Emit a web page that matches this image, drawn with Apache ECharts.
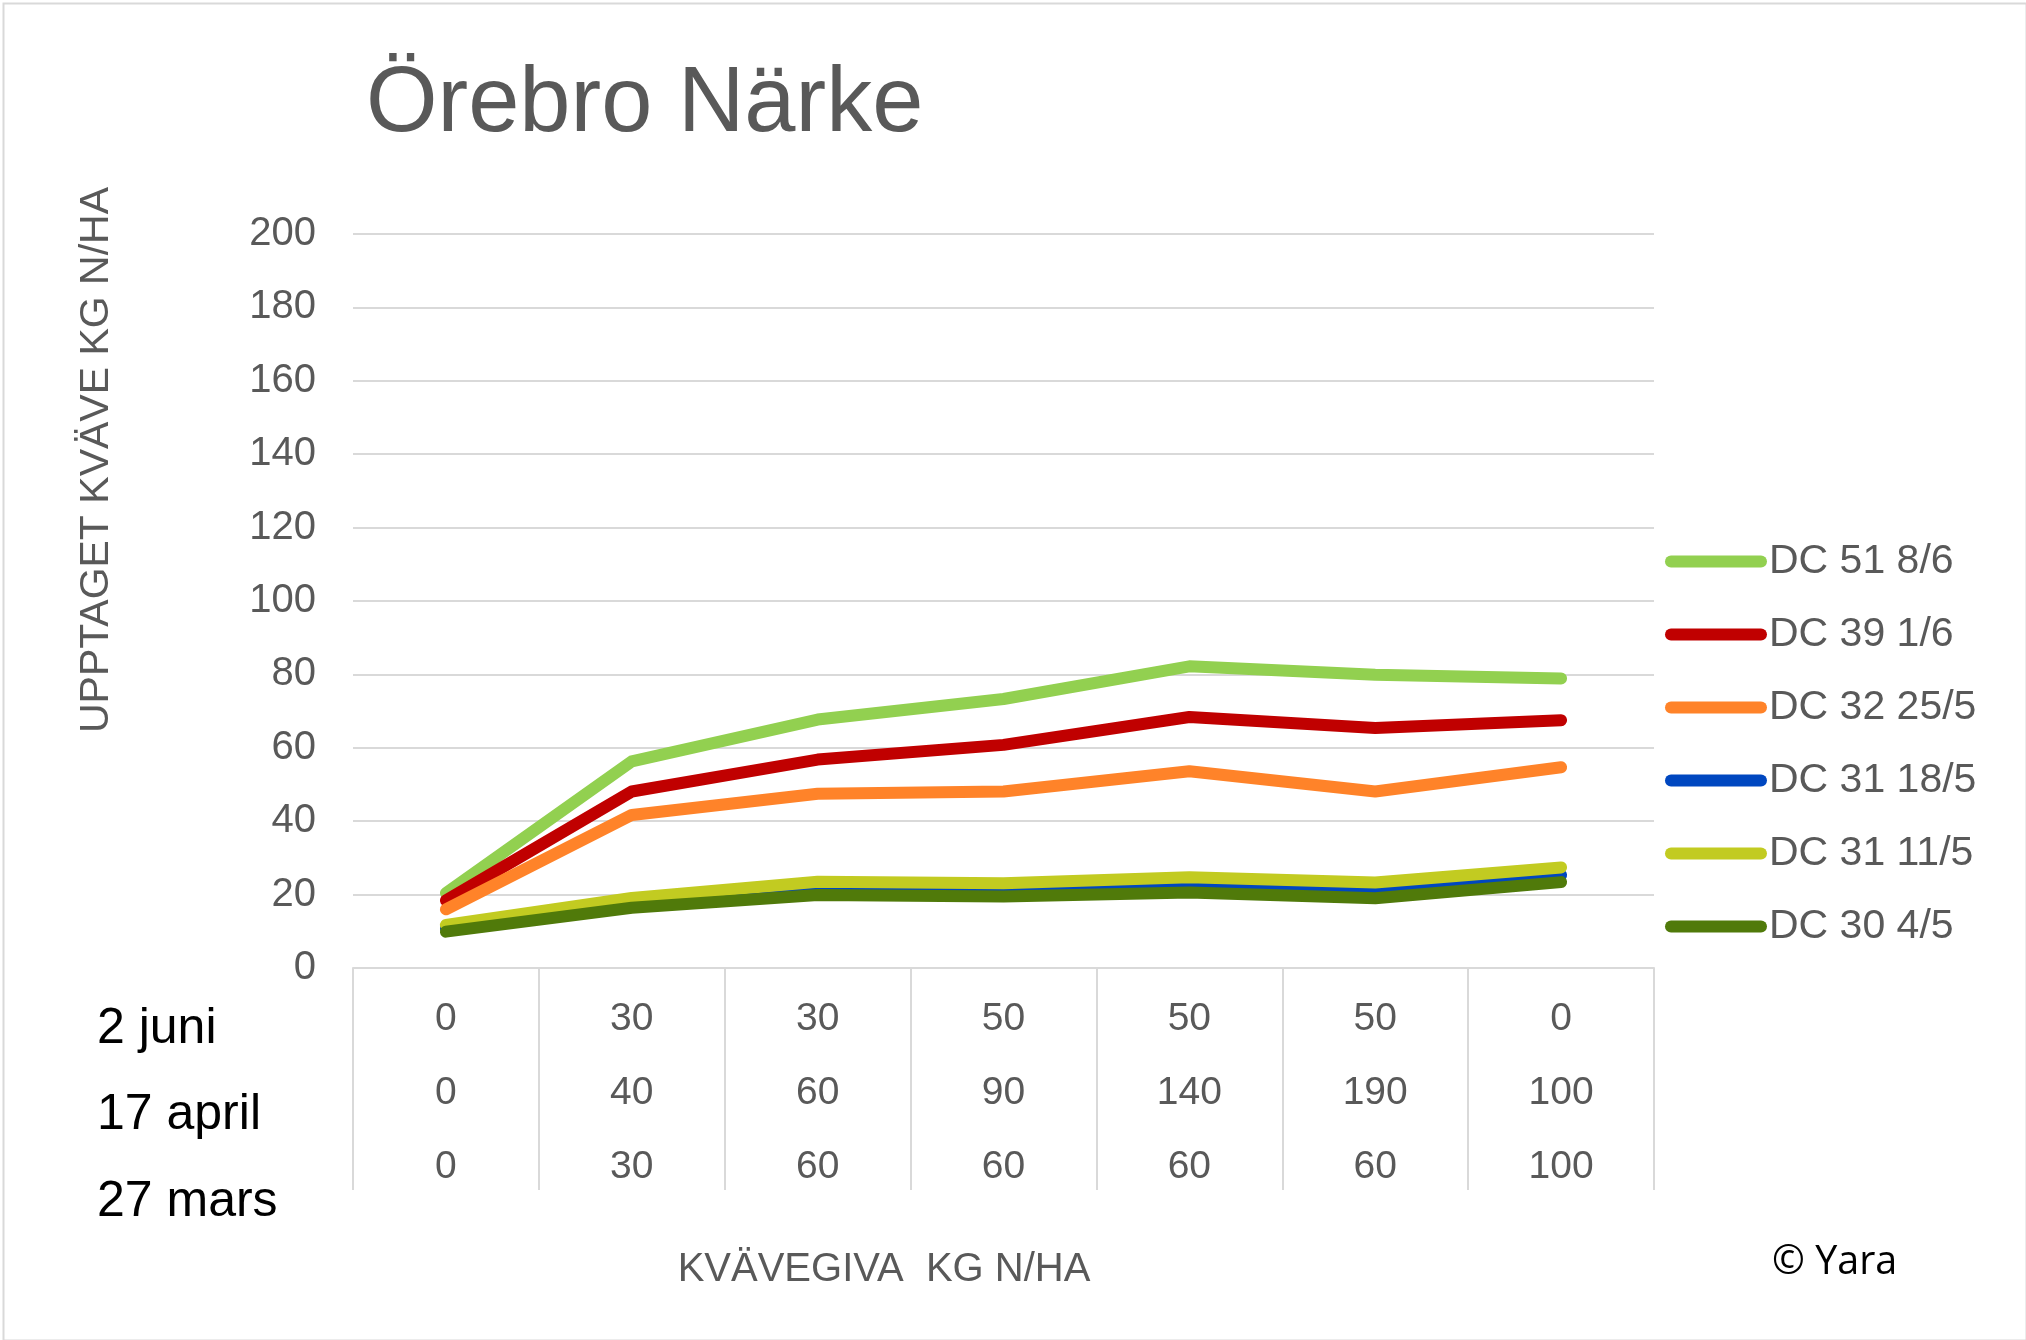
<!DOCTYPE html>
<html>
<head>
<meta charset="utf-8">
<script src="https://cdn.jsdelivr.net/npm/echarts@6/dist/echarts.min.js"></script>
<style>
html,body{margin:0;padding:0;background:#fff;}
#chart{width:2026px;height:1340px;}
</style>
</head>
<body>
<div id="chart"></div>
<script>
// Data
const juni = ['0', '30', '30', '50', '50', '50', '0'];
const april = ['0', '40', '60', '90', '140', '190', '100'];
const mars = ['0', '30', '60', '60', '60', '60', '100'];
const rowNames = ['2 juni', '17 april', '27 mars'];
const yTicks = { min: 0, max: 200, interval: 20 };

const seriesNames = ['DC 51 8/6', 'DC 39 1/6', 'DC 32 25/5', 'DC 31 18/5', 'DC 31 11/5', 'DC 30 4/5'];
const dc51 = [20.4, 56.3, 67.7, 73.3, 82.2, 79.9, 78.9];
const dc39 = [18.4, 48.1, 56.8, 60.8, 68.4, 65.4, 67.5];
const dc32 = [16.0, 41.7, 47.5, 48.1, 53.6, 48.1, 54.7];
const dc31a = [10.8, 17.0, 20.5, 20.2, 21.8, 20.4, 25.3];
const dc31b = [11.7, 19.1, 23.5, 23.1, 24.7, 23.3, 27.4];
const dc30 = [9.9, 16.4, 19.9, 19.5, 20.6, 19.0, 23.4];
const seriesValues = [dc51, dc39, dc32, dc31a, dc31b, dc30];
const colors = ['#92d050', '#c00000', '#ff8329', '#0047c0', '#c2cb21', '#507a0a'];

const titleText = 'Örebro Närke';
const yName = 'UPPTAGET KVÄVE KG N/HA';
const xName = 'KVÄVEGIVA  KG N/HA';
const credit = '© Yara';

const categories = juni.map((v, i) => [juni[i], april[i], mars[i]].join('\n'));

const chart = echarts.init(document.getElementById('chart'), null, { renderer: 'canvas' });
const FONT = '"Liberation Sans", Arial, sans-serif';
const grey = '#595959';

const option = {
  backgroundColor: '#ffffff',
  animation: false,
  color: colors,
  title: {
    text: titleText,
    left: 366,
    top: 60,
    padding: 0,
    textStyle: { fontFamily: FONT, fontSize: 92, fontWeight: 'normal', color: grey }
  },
  grid: { left: 353, right: 372, top: 234, bottom: 372, containLabel: false },
  legend: {
    orient: 'vertical',
    left: 1665,
    top: 541,
    padding: 0,
    itemWidth: 102,
    itemHeight: 12,
    itemGap: 32,
    icon: 'path://M6,0H96A6,6,0,0,1,96,12H6A6,6,0,0,1,6,0Z',
    textStyle: { fontFamily: FONT, fontSize: 41, color: grey, lineHeight: 40, padding: [0, 0, 0, -3] },
    data: seriesNames
  },
  xAxis: {
    type: 'category',
    data: categories,
    boundaryGap: true,
    axisLine: { show: true, lineStyle: { color: '#d9d9d9', width: 2 } },
    axisTick: { show: true, interval: 0, length: 222, lineStyle: { color: '#d9d9d9', width: 2 } },
    axisLabel: { interval: 0, margin: 14, fontFamily: FONT, fontSize: 39, color: grey, lineHeight: 74 },
    splitLine: { show: false }
  },
  yAxis: {
    type: 'value',
    min: yTicks.min,
    max: yTicks.max,
    interval: yTicks.interval,
    axisLine: { show: false },
    axisTick: { show: false },
    axisLabel: { margin: 37, fontFamily: FONT, fontSize: 40, color: grey, padding: [8, 0, 0, 0] },
    splitLine: { show: true, lineStyle: { color: '#d9d9d9', width: 2 } }
  },
  series: seriesNames.map((name, i) => ({
    name: name,
    type: 'line',
    data: seriesValues[i],
    symbol: 'none',
    smooth: false,
    lineStyle: { width: 12, color: colors[i], cap: 'round', join: 'round' },
    itemStyle: { color: colors[i] },
    z: 2 + i
  })),
  graphic: [
    {
      type: 'rect', left: 1, top: 1, silent: true, z: -1,
      shape: { width: 2023, height: 1337 },
      style: { fill: 'none', stroke: '#d9d9d9', lineWidth: 2 }
    },
    {
      type: 'text', x: 97, y: 460, rotation: Math.PI / 2,
      style: { text: yName, fontFamily: FONT, fontSize: 41, fill: grey, align: 'center', verticalAlign: 'middle' }
    },
    {
      type: 'text', x: 884, y: 1270,
      style: { text: xName, fontFamily: FONT, fontSize: 40, fill: grey, align: 'center', verticalAlign: 'middle' }
    },
    {
      type: 'text', x: 97, y: 1029,
      style: { text: rowNames[0], fontFamily: FONT, fontSize: 50, fill: '#000000', align: 'left', verticalAlign: 'middle' }
    },
    {
      type: 'text', x: 97, y: 1115,
      style: { text: rowNames[1], fontFamily: FONT, fontSize: 50, fill: '#000000', align: 'left', verticalAlign: 'middle' }
    },
    {
      type: 'text', x: 97, y: 1202,
      style: { text: rowNames[2], fontFamily: FONT, fontSize: 50, fill: '#000000', align: 'left', verticalAlign: 'middle' }
    },
    {
      type: 'text', x: 1772, y: 1263,
      style: { text: credit, fontFamily: '"Open Sans", sans-serif', fontSize: 39.5, fill: '#000000', align: 'left', verticalAlign: 'middle' }
    }
  ]
};
chart.setOption(option);
</script>
</body>
</html>
